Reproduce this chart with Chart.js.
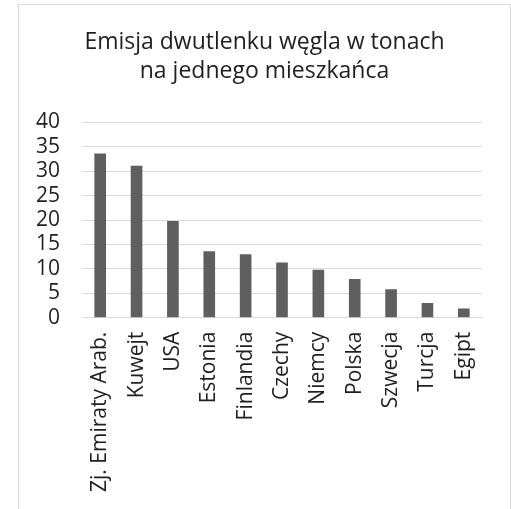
<!DOCTYPE html>
<html>
<head>
<meta charset="utf-8">
<script src="https://cdn.jsdelivr.net/npm/chart.js@4"></script>
<style>
  html, body { margin: 0; padding: 0; background: #fff; overflow: hidden; }
  #box {
    position: absolute; left: 18px; top: 4px;
    width: 491px; height: 504px;
    border: 1px solid #d9d9d9; border-bottom: none;
  }
</style>
</head>
<body>
<div id="box"><canvas id="myChart"></canvas></div>
<script>
// dane wykresu
const kraje = ['Zj. Emiraty Arab.', 'Kuwejt', 'USA', 'Estonia', 'Finlandia', 'Czechy', 'Niemcy', 'Polska', 'Szwecja', 'Turcja', 'Egipt'];
const emisja = [33.6, 31.1, 19.8, 13.6, 13.0, 11.3, 9.8, 7.9, 5.8, 3.0, 1.9];
const osY = [0, 5, 10, 15, 20, 25, 30, 35, 40];

const rodzina = '"Open Sans", Lato, sans-serif';
const czcionka = { family: rodzina, size: 21 };
const kolorTekstu = '#1f1f1f';

const ctx = document.getElementById('myChart').getContext('2d');

const config = {
  type: 'bar',
  data: {
    labels: kraje,
    datasets: [{
      label: 'Emisja',
      data: emisja,
      backgroundColor: '#5f5f5f',
      borderWidth: 0,
      barPercentage: 0.32,
      categoryPercentage: 1
    }]
  },
  options: {
    responsive: true,
    maintainAspectRatio: false,
    animation: false,
    layout: { padding: 0 },
    plugins: {
      legend: { display: false },
      tooltip: { enabled: false },
      title: {
        display: true,
        text: ['Emisja dwutlenku węgla w tonach', 'na jednego mieszkańca'],
        color: kolorTekstu,
        font: { family: rodzina, size: 23, weight: 'normal', lineHeight: 29 / 23 },
        padding: { top: 22.5, bottom: 36.8 }
      }
    },
    scales: {
      x: {
        grid: { display: false, drawTicks: false },
        border: { display: true, color: '#d9d9d9', width: 1 },
        ticks: {
          autoSkip: false,
          minRotation: 90,
          maxRotation: 90,
          padding: 14,
          color: kolorTekstu,
          font: czcionka
        },
        afterFit: (scale) => { scale.height = 191.3; }
      },
      y: {
        min: 0,
        max: 40,
        afterBuildTicks: (scale) => { scale.ticks = osY.map(v => ({ value: v })); },
        grid: { color: '#d9d9d9', lineWidth: 1, drawTicks: false },
        border: { display: false },
        ticks: {
          autoSkip: false,
          padding: 22,
          color: kolorTekstu,
          font: czcionka
        },
        afterFit: (scale) => { scale.width = 63; }
      },
      // pusty margines po prawej, żeby tytuł był na środku ramki
      prawa: {
        position: 'right',
        grid: { display: false, drawTicks: false },
        border: { display: false },
        ticks: { display: false },
        afterFit: (scale) => { scale.width = 28; }
      }
    }
  }
};

const myChart = new Chart(ctx, config);
</script>
</body>
</html>
